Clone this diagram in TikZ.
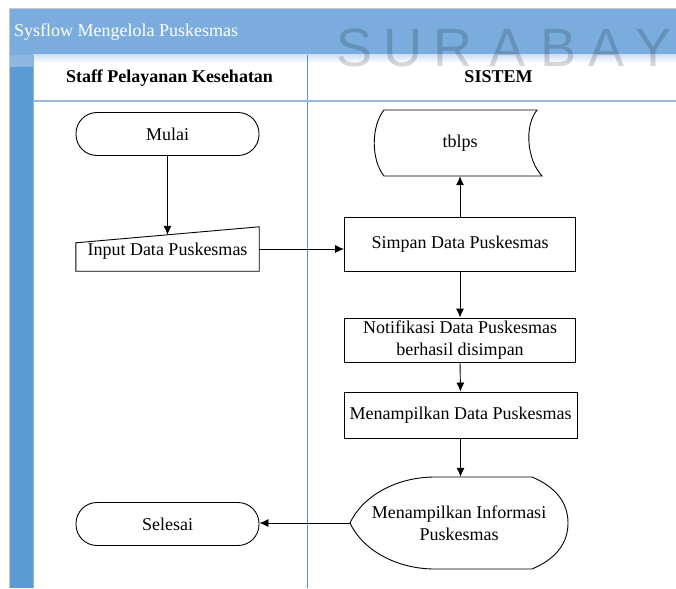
\documentclass[tikz,border=0pt]{standalone}
\usepackage{fontspec}
\setmainfont{Liberation Serif}
\newfontfamily\wmfont{Liberation Sans}
\usetikzlibrary{arrows.meta,calc}

\definecolor{barblue}{HTML}{7AADDD}
\definecolor{stripblue}{HTML}{5B9BD5}
\definecolor{striptop}{HTML}{8DB8E2}
\definecolor{laneline}{HTML}{5A8FCF}
\definecolor{headline}{HTML}{94B8E0}
\definecolor{framegray}{HTML}{C4C8CC}

\begin{document}
\begin{tikzpicture}[x=1pt,y=-1pt,
  every node/.style={font=\fontsize{18}{22}\selectfont, inner sep=0pt},
  procbox/.style={draw, line width=0.9pt, minimum width=231pt, align=center},
  termbox/.style={draw, line width=0.9pt, rounded corners=21pt,
                  minimum width=183pt, minimum height=43pt},
  ghost/.style={minimum width=#1},
  flow/.style={line width=0.9pt, -{Latex[length=9pt,width=8pt]}},
  wmletter/.style={font=\wmfont\fontsize{54}{54}\selectfont, text=black,
                   text opacity=0.16, anchor=base, text height=38pt, text depth=0pt},
  lanehead/.style={font=\bfseries\fontsize{18}{22}\selectfont, anchor=base,
                   text height=12.5pt, text depth=4pt}
]
\useasboundingbox (0,0) rectangle (676,588);
\begin{scope}
\clip (0,0) rectangle (676,588);

% pool frame: title bar, lane strip and header row
\fill[white] (0,0) rectangle (676,588);
\fill[barblue] (9,9) rectangle (690,55);
\fill[stripblue] (9,55) rectangle (33,588);
\fill[striptop] (9,55) rectangle (33,67);
\shade[top color=barblue!35, bottom color=white] (33,55) rectangle (690,63);
\draw[framegray, line width=1pt] (9,588) -- (9,9) -- (690,9);
\draw[laneline!70, line width=0.8pt] (33,55) -- (33,588);
\draw[laneline, line width=0.8pt] (307,55) -- (307,588);
\draw[headline, line width=1.8pt] (33,101) -- (690,101);

\node[anchor=base west, text=white] (title) at (14,37) {Sysflow Mengelola Puskesmas};
\node[lanehead] (hstaff) at (169.5,83) {Staff Pelayanan Kesehatan};
\node[lanehead] (hsistem) at (498.5,83) {SISTEM};

% watermark letters
\node[wmletter] (wm1) at (355,67) {S};
\node[wmletter] (wm2) at (403,67) {U};
\node[wmletter] (wm3) at (453,67) {R};
\node[wmletter] (wm4) at (507,67) {A};
\node[wmletter] (wm5) at (558,67) {B};
\node[wmletter] (wm6) at (606,67) {A};
\node[wmletter] (wm7) at (653,67) {Y};

% staff lane
\node[termbox] (mulai) at (167.5,134) {Mulai};
\node[ghost=183pt, minimum height=40pt] (input) at (167.5,251) {Input Data Puskesmas};
\coordinate (inNW) at ([yshift=-12pt]input.north west);
\coordinate (inNE) at ([yshift=4pt]input.north east);
\coordinate (intop) at ($(inNW)!0.5!(inNE)$);
\draw[line width=0.9pt] (input.south west) -- (input.south east) -- (inNE) -- (inNW) -- cycle;
\node[termbox] (selesai) at (167.5,524) {Selesai};

% system lane
\node[ghost=170pt, minimum height=66pt] (tblps) at (460,143) {tblps};
\draw[line width=0.9pt] (384,110) -- (537,110)
  .. controls (524,126) and (527,160) .. (542,176) -- (384,176)
  .. controls (371,160) and (371,126) .. (384,110) -- cycle;
\node[procbox, minimum height=54pt] (simpan) at (460,244) {Simpan Data Puskesmas};
\node[procbox, minimum height=44pt] (notif) at (460,340)
  {Notifikasi Data Puskesmas\\berhasil disimpan};
\node[procbox, minimum width=233pt, minimum height=46pt] (tampil) at (460.5,415)
  {Menampilkan Data Puskesmas};
\node[ghost=218pt, minimum height=92pt, align=center] (info) at (459,523)
  {Menampilkan Informasi\\Puskesmas};
\draw[line width=0.9pt] (350,523)
  .. controls (362,497) and (395,477) .. (435,477) -- (532,477)
  .. controls (556,487) and (568,503) .. (568,523)
  .. controls (568,543) and (556,559) .. (532,569) -- (435,569)
  .. controls (395,569) and (362,549) .. (350,523) -- cycle;

% connectors
\draw[flow] (mulai.south) -- (intop);
\draw[flow] ([yshift=2pt]input.east) -- ([yshift=2pt]input.east -| simpan.west);
\draw[flow] (simpan.north) -- (tblps.south);
\draw[flow] (simpan.south) -- (notif.north);
\draw[flow] (notif.south) -- (tampil.north);
\draw[flow] (tampil.south) -- (tampil.south |- info.north);
\draw[flow] (info.west) -- (info.west -| selesai.east);
\end{scope}
\end{tikzpicture}
\end{document}
